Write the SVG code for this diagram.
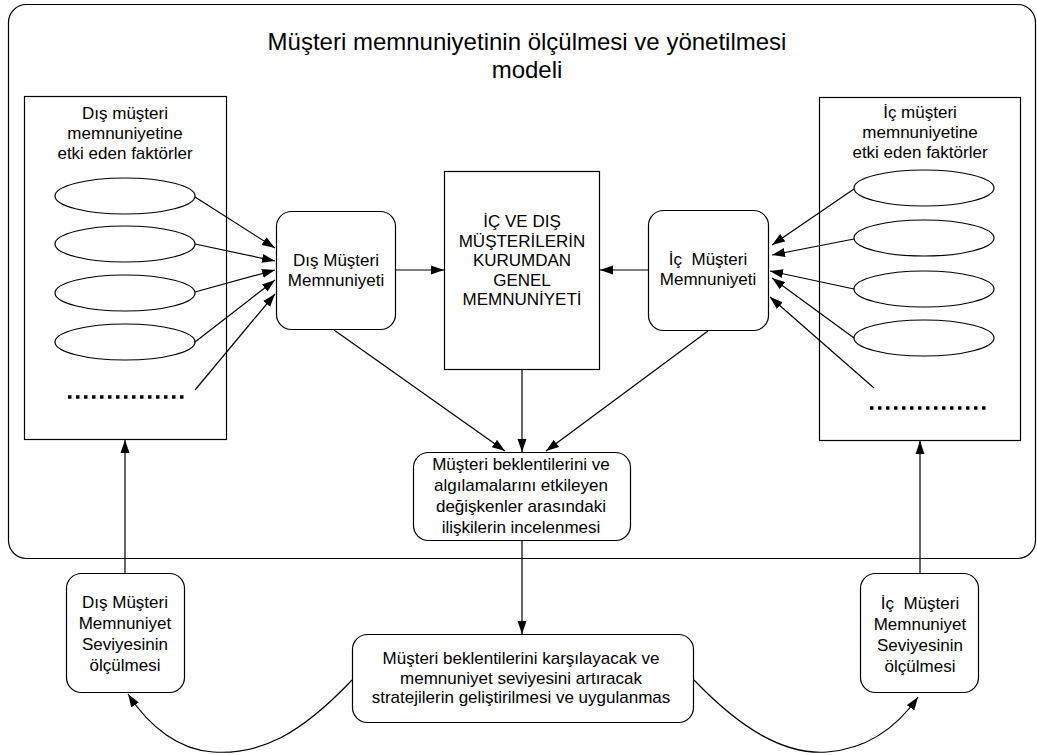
<svg xmlns="http://www.w3.org/2000/svg" width="1037" height="755" viewBox="0 0 1037 755">
<style>
text{font-family:"Liberation Sans",Arial,sans-serif;font-size:17px;fill:#000;text-anchor:middle}
.title{font-size:24px}
.box{fill:#fff;stroke:#000;stroke-width:1.2}
.ell{fill:#fff;stroke:#000;stroke-width:1.2}
.dots{stroke:#000;stroke-width:3.5;stroke-dasharray:3.5 4.5;fill:none}
.c{stroke:#000;stroke-width:1.2;fill:none}
.a{marker-end:url(#ah)}
</style>
<defs>
<marker id="ah" markerUnits="userSpaceOnUse" markerWidth="14" markerHeight="10" refX="13" refY="5" orient="auto">
<path d="M0,0.5 L13,5 L0,9.5 z" fill="#000"/>
</marker>
</defs>
<g id="frame">
<rect x="8.5" y="4.5" width="1027" height="554" rx="18" class="box"/>
<text class="title" x="527" y="50">Müşteri memnuniyetinin ölçülmesi ve yönetilmesi</text>
<text class="title" x="527" y="78">modeli</text>
</g>
<g id="dis-faktorler">
<rect x="24.5" y="96.5" width="202" height="343" class="box"/>
<text x="125" y="119">Dış müşteri</text>
<text x="125" y="139">memnuniyetine</text>
<text x="125" y="159">etki eden faktörler</text>
<ellipse cx="125" cy="196" rx="70" ry="18" class="ell"/>
<ellipse cx="125" cy="244" rx="70" ry="18" class="ell"/>
<ellipse cx="125" cy="293" rx="70" ry="18" class="ell"/>
<ellipse cx="125" cy="342" rx="70" ry="18" class="ell"/>
<line x1="68" y1="397" x2="184" y2="397" class="dots"/>
</g>
<g id="ic-faktorler">
<rect x="819.5" y="97.5" width="201" height="343" class="box"/>
<text x="920" y="118">İç müşteri</text>
<text x="920" y="138">memnuniyetine</text>
<text x="920" y="158">etki eden faktörler</text>
<ellipse cx="924" cy="188" rx="70" ry="18" class="ell"/>
<ellipse cx="924" cy="238" rx="70" ry="18" class="ell"/>
<ellipse cx="924" cy="289" rx="70" ry="18" class="ell"/>
<ellipse cx="924" cy="338" rx="70" ry="18" class="ell"/>
<line x1="870" y1="408" x2="988" y2="408" class="dots"/>
</g>
<g id="dis-memnuniyet">
<rect x="276.5" y="211.5" width="119" height="118" rx="15" class="box"/>
<text x="336" y="266">Dış Müşteri</text>
<text x="336" y="286">Memnuniyeti</text>
</g>
<g id="genel-memnuniyet">
<rect x="444.5" y="171.5" width="155" height="198" class="box"/>
<text x="522" y="227">İÇ VE DIŞ</text>
<text x="522" y="246.5">MÜŞTERİLERİN</text>
<text x="522" y="266">KURUMDAN</text>
<text x="522" y="285.5">GENEL</text>
<text x="522" y="305">MEMNUNİYETİ</text>
</g>
<g id="ic-memnuniyet">
<rect x="648.5" y="210.5" width="120" height="120" rx="15" class="box"/>
<text x="708" y="265" xml:space="preserve">İç  Müşteri</text>
<text x="708" y="285">Memnuniyeti</text>
</g>
<g id="iliskiler">
<rect x="413.5" y="452.5" width="217" height="88" rx="15" class="box"/>
<text x="521" y="470">Müşteri beklentilerini ve</text>
<text x="521" y="491">algılamalarını etkileyen</text>
<text x="521" y="512">değişkenler arasındaki</text>
<text x="521" y="533">ilişkilerin incelenmesi</text>
</g>
<g id="stratejiler">
<rect x="352.5" y="634.5" width="341" height="88" rx="15" class="box"/>
<text x="521" y="664">Müşteri beklentilerini karşılayacak ve</text>
<text x="521" y="684">memnuniyet seviyesini artıracak</text>
<text x="521" y="703">stratejilerin geliştirilmesi ve uygulanmas</text>
</g>
<g id="dis-olcum">
<rect x="66.5" y="573.5" width="118" height="119" rx="15" class="box"/>
<text x="125" y="608">Dış Müşteri</text>
<text x="125" y="629">Memnuniyet</text>
<text x="125" y="650">Seviyesinin</text>
<text x="125" y="671">ölçülmesi</text>
</g>
<g id="ic-olcum">
<rect x="860.5" y="573.5" width="118" height="119" rx="15" class="box"/>
<text x="920" y="609" xml:space="preserve">İç  Müşteri</text>
<text x="920" y="630">Memnuniyet</text>
<text x="920" y="651">Seviyesinin</text>
<text x="920" y="672">ölçülmesi</text>
</g>
<g id="connectors">
<line x1="195" y1="197" x2="275" y2="248" class="c a"/>
<line x1="195" y1="244" x2="275" y2="261" class="c a"/>
<line x1="195" y1="292" x2="275" y2="270" class="c a"/>
<line x1="195" y1="342" x2="275" y2="280" class="c a"/>
<line x1="195" y1="390" x2="275" y2="294" class="c a"/>
<line x1="854" y1="189" x2="772" y2="245" class="c a"/>
<line x1="854" y1="239" x2="772" y2="255" class="c a"/>
<line x1="854" y1="289" x2="770" y2="271" class="c a"/>
<line x1="854" y1="338" x2="772" y2="278" class="c a"/>
<line x1="874" y1="388" x2="770" y2="297" class="c a"/>
<line x1="396" y1="270" x2="444" y2="270" class="c a"/>
<line x1="648" y1="270" x2="600" y2="270" class="c a"/>
<line x1="334" y1="330" x2="505" y2="451" class="c a"/>
<line x1="522" y1="370" x2="522" y2="452" class="c a"/>
<line x1="708" y1="331" x2="546" y2="451" class="c a"/>
<line x1="522" y1="541" x2="522" y2="634" class="c a"/>
<line x1="125" y1="573" x2="125" y2="440" class="c a"/>
<line x1="920" y1="573" x2="920" y2="441" class="c a"/>
<path d="M352,680 C300,735 260,755 213,752 C180,750 150,728 128,694" class="c a"/>
<path d="M694,680 C742,730 785,755 827,752 C865,749 895,730 918,697" class="c a"/>
</g>
</svg>
